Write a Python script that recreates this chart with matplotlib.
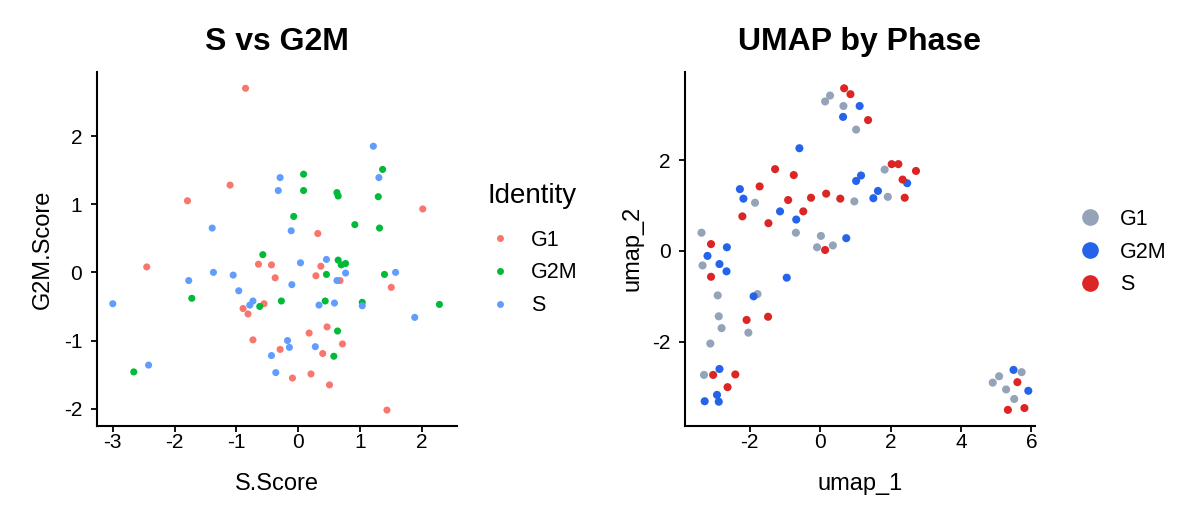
import numpy as np
import matplotlib
matplotlib.use("Agg")
import matplotlib.pyplot as plt
from matplotlib.lines import Line2D

plt.rcParams['font.family'] = ['Liberation Sans', 'DejaVu Sans']
plt.rcParams['axes.unicode_minus'] = False

phases = ["G1", "G2M", "S"]

# left panel: S.Score / G2M.Score by Identity
s_g1 = [-0.85, -1.10, -1.79, 2.02, 0.32, -0.64, -0.43, -0.37, -2.45, -0.89, -0.81, -0.55,
        -0.73, -0.29, 0.37, 0.29, 0.68, 1.51, 0.18, 0.47, 0.72, 0.40, -0.09, 0.21, 0.51, 1.44]
g2m_g1 = [2.70, 1.28, 1.05, 0.93, 0.57, 0.12, 0.11, -0.08, 0.08, -0.53, -0.61, -0.46,
          -0.99, -1.13, 0.09, -0.05, -0.12, -0.22, -0.89, -0.80, -1.05, -1.19, -1.55, -1.49, -1.65, -2.02]
s_g2m = [1.37, 0.09, 0.09, 0.63, 0.65, 1.30, -0.07, 0.92, 1.32, -0.57, -1.72, -0.62,
         -0.27, 0.46, 0.65, 0.70, 0.77, 1.40, 0.44, 1.04, 2.29, 0.64, 0.58, -2.66]
g2m_g2m = [1.51, 1.44, 1.20, 1.17, 1.12, 1.11, 0.82, 0.70, 0.65, 0.26, -0.38, -0.50,
           -0.42, -0.03, 0.18, 0.11, 0.13, -0.03, -0.42, -0.44, -0.47, -0.86, -1.23, -1.46]
s_s = [-1.39, -0.29, -0.32, 1.22, 1.31, -0.11, -1.37, -1.05, -1.77, -0.96, -3.00, -0.73,
       -0.78, -0.43, -0.36, -2.42, 0.04, 0.46, 0.77, 0.63, -0.10, 1.58, 0.34, 0.59, 1.04,
       1.89, -0.17, -0.14, 0.28]
g2m_s = [0.65, 1.39, 1.20, 1.85, 1.39, 0.61, 0.00, -0.04, -0.12, -0.27, -0.46, -0.42,
         -0.48, -1.22, -1.47, -1.36, 0.14, 0.19, -0.01, -0.12, -0.18, 0.00, -0.48, -0.45, -0.49,
         -0.66, -1.00, -1.10, -1.09]

# right panel: UMAP coordinates by Phase
u1_g1 = [0.28, 0.14, 0.66, 1.02, 0.97, 1.83, 1.92, -1.85, -0.69, -3.37, 0.02, -0.09, 0.36,
         -3.34, -2.91, -1.78, -2.88, -2.80, -2.04, -3.12, -3.30, 5.72, 5.08, 4.90, 5.28, 5.51]
u2_g1 = [3.42, 3.29, 3.19, 2.67, 1.09, 1.79, 1.19, 1.06, 0.40, 0.40, 0.33, 0.08, 0.12,
         -0.32, -0.98, -0.95, -1.44, -1.70, -1.80, -2.04, -2.73, -2.67, -2.76, -2.90, -3.05, -3.26]
u1_g2m = [1.12, 0.65, -0.59, -2.28, -2.18, 1.02, 1.16, -1.14, -0.68, -2.65, 0.74, 2.47,
          1.64, 1.51, -3.20, -2.86, -2.66, -0.95, -1.89, -2.86, -2.93, -3.28, -2.88, 5.49, 5.91]
u2_g2m = [3.19, 2.95, 2.26, 1.36, 1.15, 1.54, 1.66, 0.87, 0.69, 0.08, 0.28, 1.49,
          1.32, 1.16, -0.11, -0.29, -0.45, -0.59, -1.00, -2.60, -3.17, -3.31, -3.32, -2.62, -3.08]
u1_s = [0.68, 0.86, 1.36, -1.28, -0.75, -1.72, -0.91, -0.26, 0.17, 0.57, -2.21, -1.47,
        -0.48, -3.10, 0.14, 2.03, 2.22, 2.72, 2.34, 2.40, -3.10, -2.09, -1.48, -3.04, -2.41,
        -2.63, 5.60, 5.33, 5.80]
u2_s = [3.58, 3.45, 2.88, 1.80, 1.67, 1.42, 1.12, 1.17, 1.26, 1.15, 0.76, 0.61,
        0.87, 0.15, 0.02, 1.91, 1.91, 1.76, 1.57, 1.17, -0.57, -1.52, -1.45, -2.73, -2.72,
        -3.00, -2.89, -3.50, -3.46]

left_cols = ["#F8766D", "#00BA38", "#619CFF"]
right_cols = ["#94A3B8", "#2563EB", "#DC2626"]

fig = plt.figure(figsize=(12, 5.25), dpi=100)
ax1 = fig.add_axes([0.0806, 0.189, 0.300, 0.674])
ax2 = fig.add_axes([0.5708, 0.189, 0.2917, 0.674])


def style(ax):
    for side in ["top", "right"]:
        ax.spines[side].set_visible(False)
    for side in ["left", "bottom"]:
        ax.spines[side].set_linewidth(1.5)
    ax.tick_params(width=1.3, length=4.5, labelsize=15, colors="black")
    ax.tick_params(axis="x", pad=1)
    ax.tick_params(axis="y", pad=6)


left_data = [(s_g1, g2m_g1), (s_g2m, g2m_g2m), (s_s, g2m_s)]
for (x, y), c in zip(left_data, left_cols):
    ax1.scatter(x, y, s=26, color=c, edgecolors="none")
style(ax1)
ax1.set_xlim(-3.26, 2.57)
ax1.set_ylim(-2.25, 2.94)
ax1.set_xticks([-3, -2, -1, 0, 1, 2])
ax1.set_yticks([-2, -1, 0, 1, 2])
ax1.set_xlabel("S.Score", fontsize=17, labelpad=15)
ax1.set_ylabel("G2M.Score", fontsize=17, labelpad=7)
ax1.set_title("S vs G2M", fontsize=23, fontweight="bold", pad=16)

# legend title placed separately so the gap above the keys matches
fig.text(487 / 1200, 1 - 196 / 525, "Identity", fontsize=20, va="center", ha="left")
h1 = [Line2D([], [], ls="none", marker="o", ms=5, mfc=c, mec="none") for c in left_cols]
fig.legend(h1, phases, loc="center left", bbox_to_anchor=(480.6 / 1200, 1 - 273 / 525),
           frameon=False, fontsize=15.5, handlelength=1.0, handletextpad=0.94,
           labelspacing=0.55, borderaxespad=0)

right_data = [(u1_g1, u2_g1), (u1_g2m, u2_g2m), (u1_s, u2_s)]
for (x, y), c in zip(right_data, right_cols):
    ax2.scatter(x, y, s=34, color=c, edgecolors="none")
style(ax2)
ax2.set_xlim(-3.84, 6.1)
ax2.set_ylim(-3.85, 3.94)
ax2.set_xticks([-2, 0, 2, 4, 6])
ax2.set_yticks([-2, 0, 2])
ax2.set_xlabel("umap_1", fontsize=17, labelpad=15)
ax2.set_ylabel("umap_2", fontsize=17, labelpad=6)
ax2.set_title("UMAP by Phase", fontsize=23, fontweight="bold", pad=16)
h2 = [Line2D([], [], ls="none", marker="o", ms=12, mfc=c, mec="none") for c in right_cols]
fig.legend(h2, phases, loc="center left", bbox_to_anchor=(1070.6 / 1200, 1 - 252 / 525),
           frameon=False, fontsize=15.5, handlelength=1.0, handletextpad=0.9,
           labelspacing=0.55, borderaxespad=0)

fig.savefig("out.png", dpi=100)
